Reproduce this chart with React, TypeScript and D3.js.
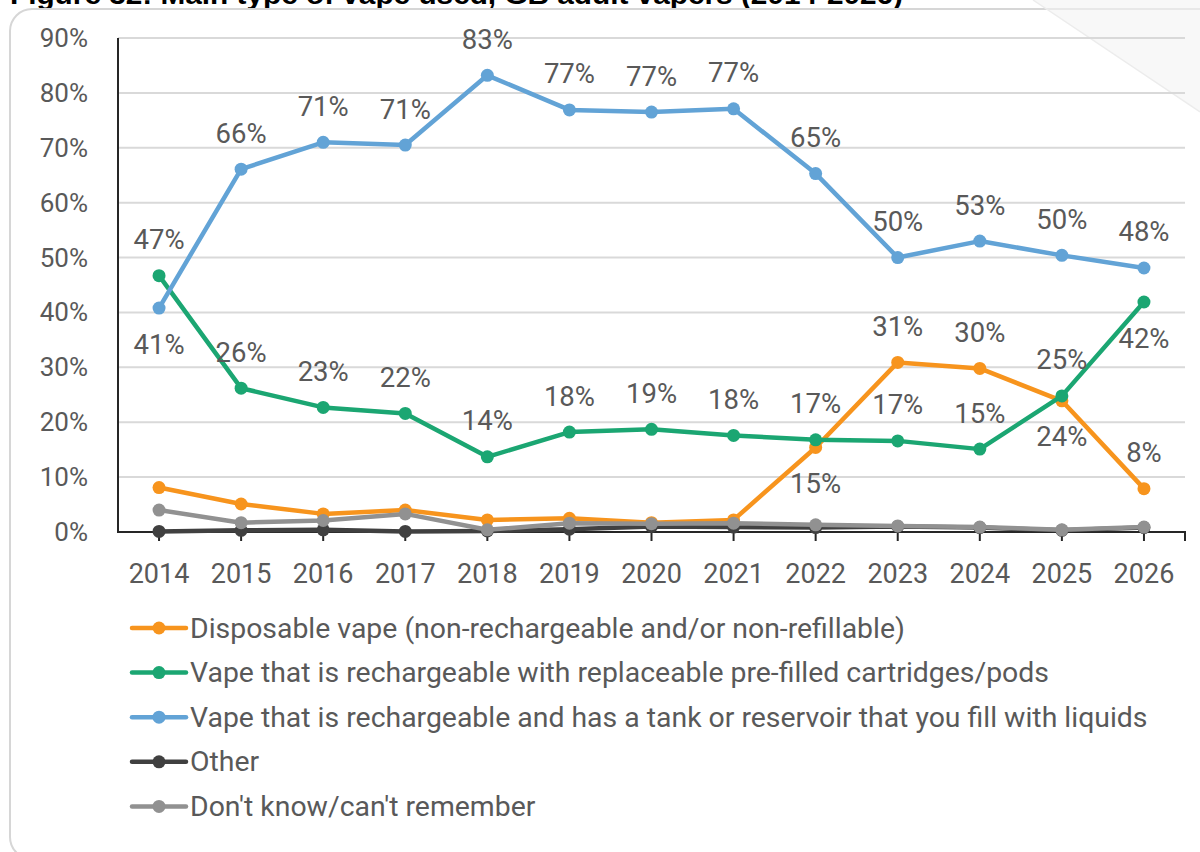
import React from "react";
import * as d3 from "d3";

const years = ["2014","2015","2016","2017","2018","2019","2020","2021","2022","2023","2024","2025","2026"];
const disposable = [8.1, 5.1, 3.3, 4.0, 2.2, 2.5, 1.7, 2.2, 15.4, 30.9, 29.8, 23.9, 7.9];
const pods = [46.7, 26.2, 22.7, 21.6, 13.7, 18.2, 18.7, 17.6, 16.8, 16.6, 15.1, 24.8, 41.9];
const tank = [40.8, 66.1, 71.0, 70.5, 83.2, 76.9, 76.5, 77.1, 65.3, 50.0, 53.0, 50.4, 48.1];
const other = [0.1, 0.3, 0.4, 0.1, 0.2, 0.5, 1.0, 0.9, 0.8, 1.0, 0.8, 0.3, 0.8];
const dontKnow = [4.0, 1.7, 2.1, 3.3, 0.4, 1.6, 1.5, 1.6, 1.3, 1.1, 0.9, 0.4, 0.9];
const yTicks = [0, 10, 20, 30, 40, 50, 60, 70, 80, 90];
const seriesNames = [
  "Disposable vape (non-rechargeable and/or non-refillable)",
  "Vape that is rechargeable with replaceable pre-filled cartridges/pods",
  "Vape that is rechargeable and has a tank or reservoir that you fill with liquids",
  "Other",
  "Don't know/can't remember",
];
const colors = ["#F7941D", "#1BA672", "#62A3D6", "#404040", "#919191"];
// label placement per series: 1 = above, -1 = below, 0 = none
const labelPos = [
  [0,0,0,0,0,0,0,0,-1,1,1,-1,1],
  [1,1,1,1,1,1,1,1,1,1,1,1,-1],
  [-1,1,1,1,1,1,1,1,1,1,1,1,1],
  [0,0,0,0,0,0,0,0,0,0,0,0,0],
  [0,0,0,0,0,0,0,0,0,0,0,0,0],
];

export default function App() {
  const W = 1200, H = 852;
  const x = d3.scalePoint<string>().domain(years).range([118, 1185]).padding(0.5);
  const y = d3.scaleLinear().domain([0, 90]).range([532, 38]);
  const all = [disposable, pods, tank, other, dontKnow];
  const line = d3.line<number>().x((_, i) => x(years[i]) as number).y(d => y(d));
  const font = "Roboto, 'Noto Sans', sans-serif";
  const txt = "#595959";
  return (
    <svg width={W} height={H} style={{ position: "absolute", left: 0, top: 0 }} fontFamily={font}>
      <rect width={W} height={H} fill="#fff" />
      <text x={10} y={4} fontFamily="'Liberation Sans', Arial, sans-serif" fontSize={27} fill="#000" fontWeight={600} textLength={893} lengthAdjust="spacingAndGlyphs">
        Figure 32: Main type of vape used, GB adult vapers (2014-2026)
      </text>
      <rect x={10} y={9} width={1220} height={850} rx={22} fill="#fff" stroke="#d6d6d6" strokeWidth={2} />
      <polygon points="1033,0 1200,0 1200,112" fill="#f3f3f3" opacity={0.6} />
      <line x1={1033} y1={0} x2={1200} y2={112} stroke="#ececec" strokeWidth={1.5} />
      {yTicks.filter(t => t > 0).map(t => (
        <line key={t} x1={118} x2={1185} y1={y(t)} y2={y(t)} stroke="#d9d9d9" strokeWidth={2} />
      ))}
      {yTicks.map(t => (
        <text key={t} x={88} y={y(t)} textAnchor="end" dominantBaseline="central" fontSize={26} fill={txt}>{t}%</text>
      ))}
      <line x1={118} x2={118} y1={38} y2={533} stroke="#262626" strokeWidth={2} />
      <line x1={117} x2={1186} y1={532} y2={532} stroke="#262626" strokeWidth={2} />
      {years.map(yr => (
        <line key={yr} x1={x(yr)} x2={x(yr)} y1={532} y2={541} stroke="#262626" strokeWidth={2} />
      ))}
      <line x1={1185} x2={1185} y1={532} y2={541} stroke="#262626" strokeWidth={2} />
      {years.map(yr => (
        <text key={yr} x={x(yr)} y={574} textAnchor="middle" dominantBaseline="central" fontSize={27} fill={txt}>{yr}</text>
      ))}
      {all.map((s, si) => (
        <g key={si}>
          <path d={line(s) || ""} fill="none" stroke={colors[si]} strokeWidth={4.5} strokeLinejoin="round" />
          {s.map((v, i) => (
            <circle key={i} cx={x(years[i])} cy={y(v)} r={6.5} fill={colors[si]} />
          ))}
        </g>
      ))}
      {all.map((s, si) => s.map((v, i) => labelPos[si][i] === 0 ? null : (
        <text key={`${si}-${i}`} x={x(years[i])} y={y(v) - 36 * labelPos[si][i]} textAnchor="middle" dominantBaseline="central" fontSize={27.5} fill={txt}>
          {Math.round(v)}%
        </text>
      )))}
      {seriesNames.map((n, i) => {
        const ly = 628 + i * 44.6;
        return (
          <g key={n}>
            <line x1={132} x2={186} y1={ly} y2={ly} stroke={colors[i]} strokeWidth={4.5} strokeLinecap="round" />
            <circle cx={159} cy={ly} r={6.5} fill={colors[i]} />
            <text x={190} y={ly} dominantBaseline="central" fontSize={28.4} fill={txt}>{n}</text>
          </g>
        );
      })}
    </svg>
  );
}
